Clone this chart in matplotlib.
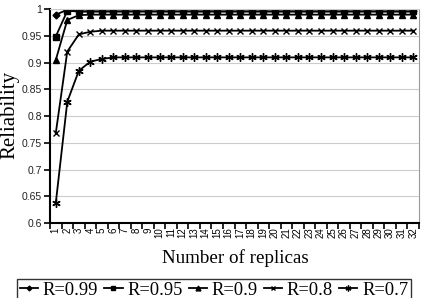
import matplotlib
matplotlib.use('Agg')
import matplotlib.pyplot as plt
import numpy as np

replicas = list(range(1, 33))
n = len(replicas)

r099 = [0.990, 0.999] + [0.996] * (n - 2)
r095 = [0.949, 0.997] + [0.996] * (n - 2)
r090 = [0.905, 0.980, 0.989] + [0.990] * (n - 3)
r080 = [0.768, 0.921, 0.953, 0.958] + [0.960] * (n - 4)
r070 = [0.637, 0.827, 0.885, 0.902, 0.907] + [0.910] * (n - 5)

series = [
    ('R=0.99', r099, 'D', 3.5),
    ('R=0.95', r095, 's', 4.5),
    ('R=0.9', r090, '^', 5),
    ('R=0.8', r080, 'x', 5),
    ('R=0.7', r070, (6, 2, 0), 6),
]

fig = plt.figure(figsize=(4.26, 2.98), dpi=100)
ax = fig.add_axes([50/426, 1 - 223/298, 369/426, (223 - 9.3)/298])

x = np.arange(n) + 0.5
for label, vals, mk, ms in series:
    ax.plot(x, vals, color='black', lw=1.3, marker=mk, markersize=ms,
            markeredgewidth=1.0, label=label)

ax.set_xlim(0, n)
ax.set_ylim(0.6, 1.0)
ax.set_yticks(np.arange(0.6, 1.001, 0.05))
ax.set_yticklabels(['0.6', '0.65', '0.7', '0.75', '0.8', '0.85', '0.9', '0.95', '1'],
                   fontfamily='Liberation Sans', fontsize=7.5, color='#222222')
ax.set_xticks(x)
ax.set_xticklabels([str(r) for r in replicas], rotation=90,
                   fontfamily='Liberation Sans', fontsize=7)
ax.tick_params(axis='x', length=0, pad=3)
ax.set_xticks(np.arange(0, n + 1), minor=True)
ax.tick_params(axis='x', which='minor', length=4, direction='out', width=1.2)
ax.tick_params(axis='y', length=4, direction='out', width=1.2, pad=2)
ax.grid(axis='y', color='#cccccc', lw=0.8)
ax.set_axisbelow(True)

for s in ['left', 'bottom']:
    ax.spines[s].set_linewidth(1.5)
    ax.spines[s].set_color('black')
ax.spines['right'].set_color('#999999')
ax.spines['top'].set_color('#cccccc')

fig.text(10/426, 1 - 115/298, 'Reliability', rotation=90, ha='center', va='center',
         fontfamily='Liberation Serif', fontsize=15)
fig.text(235/426, 1 - 258/298, 'Number of replicas', ha='center', va='center',
         fontfamily='Liberation Serif', fontsize=13.7)

leg = fig.legend(loc='upper center', bbox_to_anchor=(214/426, 1 - 279/298), ncol=5,
                 prop={'family': 'Liberation Serif', 'size': 13.3},
                 frameon=True, fancybox=False, edgecolor='black',
                 handlelength=1.0, handletextpad=0.25, columnspacing=0.32,
                 borderpad=0.15, borderaxespad=0, markerscale=0.7)
leg.get_frame().set_linewidth(1.0)

fig.savefig('out.png', dpi=100)
